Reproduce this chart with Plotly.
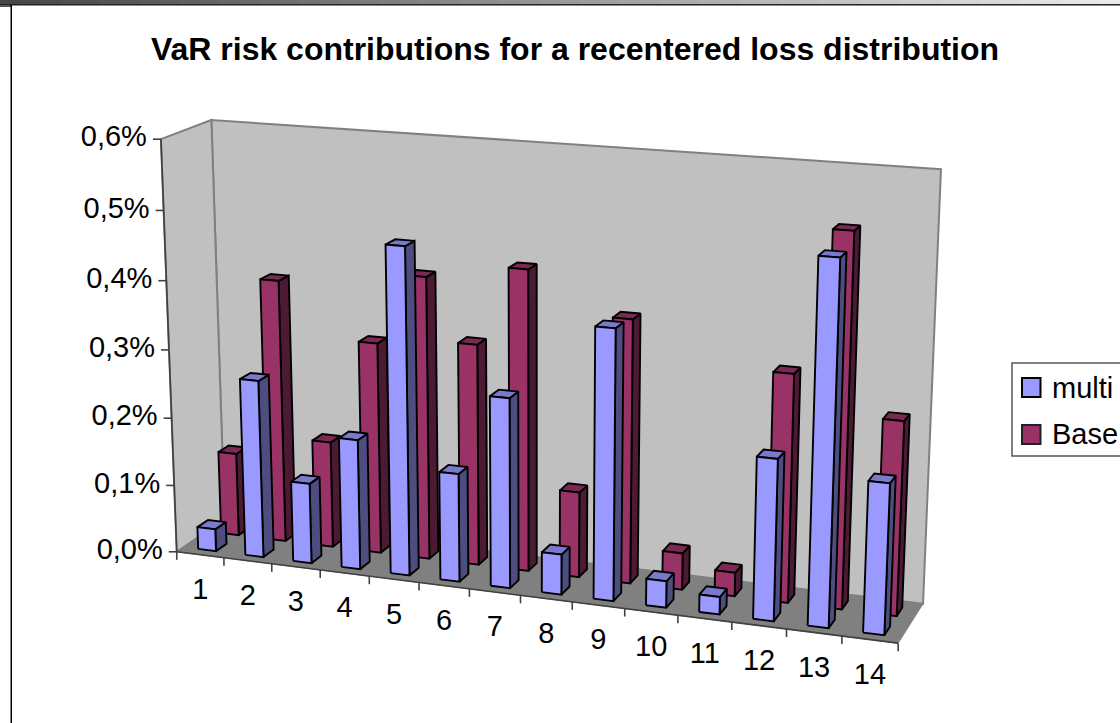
import numpy as np
import plotly.graph_objects as go

# Chart data
categories = list(range(1, 15))
multi_values = [0.033, 0.261, 0.118, 0.190, 0.472, 0.157, 0.273, 0.058, 0.384, 0.038, 0.025, 0.227, 0.504, 0.210]
base_values = [0.124, 0.388, 0.157, 0.310, 0.412, 0.322, 0.435, 0.124, 0.378, 0.053, 0.034, 0.323, 0.523, 0.273]
value_ticks = [0.0, 0.1, 0.2, 0.3, 0.4, 0.5, 0.6]
value_tick_labels = ["0,0%", "0,1%", "0,2%", "0,3%", "0,4%", "0,5%", "0,6%"]

TITLE = "VaR risk contributions for a recentered loss distribution"
FONT = "Liberation Sans"

# Perspective view: (category, depth, value) onto the two plot axes.
CAMERA = np.array([
    [0.904685, 0.977805, -0.52356, 0.041174],
    [-0.008624, 0.049293, 0.95618, 0.004631],
    [-0.00639, 0.035994, -0.069862, 1.0],
])

W, H = 1120, 723
PX_PER_CAT, PX_PER_VAL = 51.5, 686.7
X_RANGE = [0.5 - 177 / PX_PER_CAT, 0.5 + (W - 177) / PX_PER_CAT]
Y_RANGE = [(552 - H) / PX_PER_VAL, 552 / PX_PER_VAL]

CAT_MIN, CAT_MAX = 0.5, 14.5
VAL_MAX = 0.6
BAR_HALF = 0.19
ROWS = {"multi": (0.14, 0.36), "Base": (0.62, 0.84)}

COLORS = {
    "multi": {"front": "#9999FF", "side": "#4D4D80", "top": "#7A7ACC"},
    "Base": {"front": "#993366", "side": "#4D1A33", "top": "#7A2952"},
}


def project(c, d, v):
    h = CAMERA @ np.array([c, d, v, 1.0])
    return h[0] / h[2], h[1] / h[2]


def polygon(corners):
    pts = [project(*p) for p in corners]
    pts.append(pts[0])
    return [p[0] for p in pts], [p[1] for p in pts]


def face_trace(polys, fill, line_color="#000000", line_width=1.9):
    xs, ys = [], []
    for px, py in polys:
        xs += px + [None]
        ys += py + [None]
    return go.Scatter(x=xs, y=ys, mode="lines", fill="toself", fillcolor=fill,
                      line=dict(color=line_color, width=line_width),
                      hoverinfo="skip", showlegend=False)


def bar_faces(values, row):
    d0, d1 = ROWS[row]
    front, side, top = [], [], []
    for cat, val in zip(categories, values):
        c0, c1 = cat - BAR_HALF, cat + BAR_HALF
        front.append(polygon([(c0, d0, 0), (c1, d0, 0), (c1, d0, val), (c0, d0, val)]))
        side.append(polygon([(c1, d0, 0), (c1, d1, 0), (c1, d1, val), (c1, d0, val)]))
        top.append(polygon([(c0, d0, val), (c1, d0, val), (c1, d1, val), (c0, d1, val)]))
    return front, side, top


fig = go.Figure()

# Walls and floor of the plot box
fig.add_trace(face_trace([polygon([(CAT_MIN, 1, 0), (CAT_MAX, 1, 0), (CAT_MAX, 1, VAL_MAX), (CAT_MIN, 1, VAL_MAX)])],
                         "#C0C0C0", "#808080", 2))
fig.add_trace(face_trace([polygon([(CAT_MIN, 0, 0), (CAT_MIN, 1, 0), (CAT_MIN, 1, VAL_MAX), (CAT_MIN, 0, VAL_MAX)])],
                         "#C0C0C0", "#808080", 2))
fig.add_trace(face_trace([polygon([(CAT_MIN, 0, 0), (CAT_MAX, 0, 0), (CAT_MAX, 1, 0), (CAT_MIN, 1, 0)])],
                         "#808080", "#808080", 1))


def line_trace(segments, color="#404040", width=1.6):
    xs, ys = [], []
    for a, b in segments:
        xs += [a[0], b[0], None]
        ys += [a[1], b[1], None]
    return go.Scatter(x=xs, y=ys, mode="lines", line=dict(color=color, width=width),
                      hoverinfo="skip", showlegend=False)


TICK_CAT = 8 / PX_PER_CAT
TICK_VAL = 8 / PX_PER_VAL

# Axis lines and tick marks
axis_segments = [
    (project(CAT_MIN, 0, 0), project(CAT_MIN, 0, VAL_MAX)),
    (project(CAT_MIN, 0, 0), project(CAT_MAX, 0, 0)),
]
for t in value_ticks:
    x, y = project(CAT_MIN, 0, t)
    axis_segments.append(((x - TICK_CAT, y), (x, y)))
for edge in np.arange(CAT_MIN, CAT_MAX + 0.5):
    x, y = project(edge, 0, 0)
    axis_segments.append(((x, y), (x, y - TICK_VAL)))
fig.add_trace(line_trace(axis_segments))

# Bars, back row first so the front row overlaps it
for row, values in (("Base", base_values), ("multi", multi_values)):
    front, side, top = bar_faces(values, row)
    fig.add_trace(face_trace(side, COLORS[row]["side"]))
    fig.add_trace(face_trace(top, COLORS[row]["top"]))
    fig.add_trace(face_trace(front, COLORS[row]["front"]))

# Axis labels
val_pos = [project(CAT_MIN, 0, t) for t in value_ticks]
fig.add_trace(go.Scatter(
    x=[p[0] - 14 / PX_PER_CAT for p in val_pos], y=[p[1] for p in val_pos],
    mode="text", text=value_tick_labels, textposition="middle left",
    textfont=dict(family=FONT, size=29, color="#000000"),
    hoverinfo="skip", showlegend=False))
cat_pos = [project(c, 0, 0) for c in categories]
fig.add_trace(go.Scatter(
    x=[p[0] for p in cat_pos], y=[p[1] - 37 / PX_PER_VAL for p in cat_pos],
    mode="text", text=[str(c) for c in categories], textposition="middle center",
    textfont=dict(family=FONT, size=29, color="#000000"),
    hoverinfo="skip", showlegend=False))


def px_x(x):
    return x / W


def px_y(y):
    return 1 - y / H


shapes = []


def rect(x0, y0, x1, y1, fill, line=None, width=0):
    shapes.append(dict(type="rect", xref="paper", yref="paper",
                       x0=px_x(x0), x1=px_x(x1), y0=px_y(y0), y1=px_y(y1),
                       fillcolor=fill, line=dict(color=line or fill, width=width)))


# Window frame along the top and left
STEPS = 56
for i in range(STEPS):
    g = int(70 + (235 - 70) * i / (STEPS - 1))
    rect(W * i / STEPS, 0, W * (i + 1) / STEPS + 1, 4, f"rgb({g},{g},{g})")
rect(0, 4, W, 5.5, "#222222")
rect(0, 5, 11, 7, "#555555")
rect(10.5, 5, 12, H, "#000000")

# Legend
rect(1012, 363, W + 20, 456, "#FFFFFF", "#555555", 1.5)
rect(1022, 378, 1040.5, 397, COLORS["multi"]["front"], "#000000", 2)
rect(1022, 425, 1040.5, 444, COLORS["Base"]["front"], "#222222", 2)

annotations = [
    dict(xref="paper", yref="paper", x=px_x(1052), y=px_y(388), text="multi", showarrow=False,
         xanchor="left", yanchor="middle", xshift=-2, font=dict(family=FONT, size=29, color="#000000")),
    dict(xref="paper", yref="paper", x=px_x(1052), y=px_y(434), text="Base", showarrow=False,
         xanchor="left", yanchor="middle", xshift=-2, font=dict(family=FONT, size=29, color="#000000")),
]

fig.update_layout(
    width=W, height=H, margin=dict(l=0, r=0, t=0, b=0),
    paper_bgcolor="#FFFFFF", plot_bgcolor="#FFFFFF",
    title=dict(text=f"<b>{TITLE}</b>", x=575 / W, y=px_y(49), xanchor="center", yanchor="middle",
               font=dict(family=FONT, size=32, color="#000000")),
    xaxis=dict(range=X_RANGE, visible=False, fixedrange=True),
    yaxis=dict(range=Y_RANGE, visible=False, fixedrange=True),
    shapes=shapes, annotations=annotations, showlegend=False,
)

fig.write_html("out.html", config={"displayModeBar": False})
